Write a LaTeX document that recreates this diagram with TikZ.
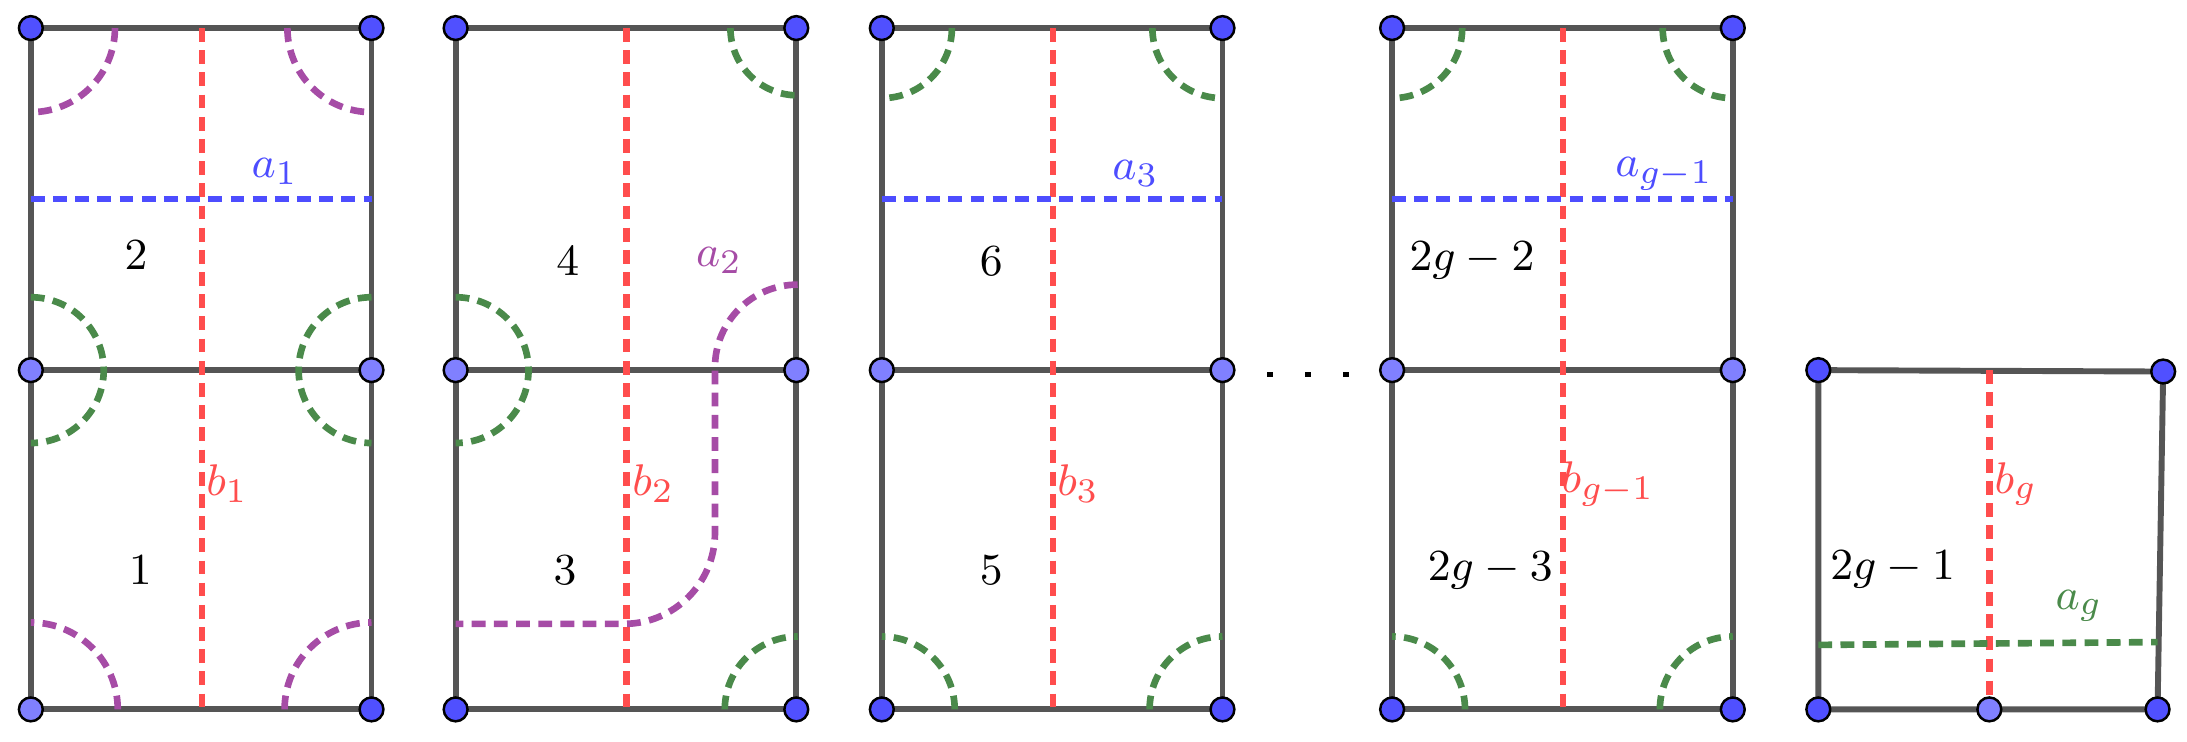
\documentclass[tikz,border=0pt]{standalone}
\usepackage{amsmath}
\usetikzlibrary{positioning}
\definecolor{frame}{HTML}{555555}
\definecolor{bcol}{HTML}{FF4D4D}
\definecolor{acol}{HTML}{4D4DFF}
\definecolor{pcol}{HTML}{A64CA6}
\definecolor{gcol}{HTML}{4A8A4A}
\definecolor{vdark}{HTML}{5050FF}
\definecolor{vlight}{HTML}{8080FF}
\begin{document}
\begin{tikzpicture}[x=0.01cm,y=-0.01cm,font=\fontsize{9.5}{11}\selectfont]
 \tikzstyle{edge} = [draw=frame,line width=1.2pt]
 \tikzstyle{cyc} = [line width=1.35pt,dash pattern=on 2.8pt off 1.7pt]
 \tikzstyle{bcyc} = [cyc,draw=bcol]
 \tikzstyle{acyc} = [cyc,draw=acol]
 \tikzstyle{pcyc} = [cyc,draw=pcol]
 \tikzstyle{gcyc} = [cyc,draw=gcol]
 \tikzstyle{vd} = [circle,draw=black,fill=vdark,line width=0.5pt,inner sep=0pt,minimum size=0.17cm]
 \tikzstyle{vl} = [vd,fill=vlight]
 \useasboundingbox (0,0) rectangle (1560,529);
 % four double squares
 \foreach \n/\L in {1/22,2/325,3/629,4/993} {
  \coordinate (TL\n) at (\L,20);
  \coordinate (TR\n) at (\L+243,20);
  \coordinate (ML\n) at (\L,264);
  \coordinate (MR\n) at (\L+243,264);
  \coordinate (BL\n) at (\L,506);
  \coordinate (BR\n) at (\L+243,506);
  \coordinate (BT\n) at (\L+122,20);
  \coordinate (BB\n) at (\L+122,506);
  \path [edge] (TL\n) -- (TR\n) -- (BR\n) -- (BL\n) -- cycle;
  \path [edge] (ML\n) -- (MR\n);
  \path [bcyc] (BT\n) -- (BB\n);
 }
 % a curves
 \foreach \n in {1,3,4} {
  \path (TL\n) ++(0,122) coordinate (AL\n) (TR\n) ++(0,122) coordinate (AR\n);
  \path [acyc] (AL\n) -- (AR\n);
 }
 % column 1 arcs
 \path [pcyc] (82,20) arc[start angle=0,end angle=90,radius=60];
 \path [pcyc] (205,20) arc[start angle=180,end angle=90,radius=60];
 \path [pcyc] (84,506) arc[start angle=0,end angle=-90,radius=62];
 \path [pcyc] (203,506) arc[start angle=180,end angle=270,radius=62];
 \path [gcyc] (22,212) arc[start angle=-90,end angle=90,radius=52];
 \path [gcyc] (265,212) arc[start angle=270,end angle=90,radius=52];
 % column 2 arcs
 \path [gcyc] (521,20) arc[start angle=180,end angle=90,radius=48];
 \path [gcyc] (325,212) arc[start angle=-90,end angle=90,radius=52];
 \path [gcyc] (517,506) arc[start angle=180,end angle=270,radius=52];
 \path [pcyc] (569,203) arc[start angle=-90,end angle=-180,radius=59]
  -- (510,380) arc[start angle=0,end angle=90,radius=65] -- (325,445);
 % columns 3 and 4 arcs
 \foreach \n/\L in {3/629,4/993} {
  \path [gcyc] (\L+50,20) arc[start angle=0,end angle=90,radius=50];
  \path [gcyc] (\L+193,20) arc[start angle=180,end angle=90,radius=50];
  \path [gcyc] (\L+52,506) arc[start angle=0,end angle=-90,radius=52];
  \path [gcyc] (\L+191,506) arc[start angle=180,end angle=270,radius=52];
 }
 % last square
 \coordinate (TL5) at (1297,264);
 \coordinate (TR5) at (1543,265);
 \coordinate (BR5) at (1539,506);
 \coordinate (BL5) at (1297,506);
 \coordinate (BM5) at (1419,506);
 \coordinate (BT5) at (1419,264);
 \coordinate (AL5) at (1297,460);
 \coordinate (AR5) at (1539,458);
 \path [edge] (TL5) -- (TR5) -- (BR5) -- (BL5) -- cycle;
 \path [bcyc] (BT5) -- (BM5);
 \path [gcyc] (AL5) -- (AR5);
 % vertices
 \foreach \n in {1,2,3,4} {
  \node [vd] at (TL\n) {};
  \node [vd] at (TR\n) {};
  \node [vl] at (ML\n) {};
  \node [vl] at (MR\n) {};
  \node [vd] at (BR\n) {};
 }
 \node [vl] at (BL1) {};
 \foreach \n in {2,3,4} { \node [vd] at (BL\n) {}; }
 \foreach \p in {TL5,TR5,BR5,BL5} { \node [vd] at (\p) {}; }
 \node [vl] at (BM5) {};
 % labels
 \node (r2) at (97,182) {$2$};
 \node (r1) at (100,407) {$1$};
 \node (r4) at (405,186) {$4$};
 \node (r3) at (403,407) {$3$};
 \node (r6) at (707,186) {$6$};
 \node (r5) at (707,407) {$5$};
 \node (r2g2) at (1050,186) {$2g-2$};
 \node (r2g3) at (1063,407) {$2g-3$};
 \node (r2g1) at (1350,406) {$2g-1$};
 \node [text=acol] (a1) at (196,122) {$a_1$};
 \node [text=acol] (a3) at (810,124) {$a_3$};
 \node [text=acol] (ag1) at (1187,124) {$a_{g-1}$};
 \node [text=pcol] (a2) at (513,186) {$a_2$};
 \node [text=gcol] (ag) at (1483,432) {$a_g$};
 \node [text=bcol] (b1) at (162,345) {$b_1$};
 \node [text=bcol] (b2) at (466,345) {$b_2$};
 \node [text=bcol] (b3) at (769,345) {$b_3$};
 \node [text=bcol] (bg1) at (1147,345) {$b_{g-1}$};
 \node [text=bcol] (bg) at (1438,345) {$b_g$};
 \foreach \x in {906,933,960} { \fill (\x-2,265) rectangle (\x+2,269); }
\end{tikzpicture}
\end{document}
